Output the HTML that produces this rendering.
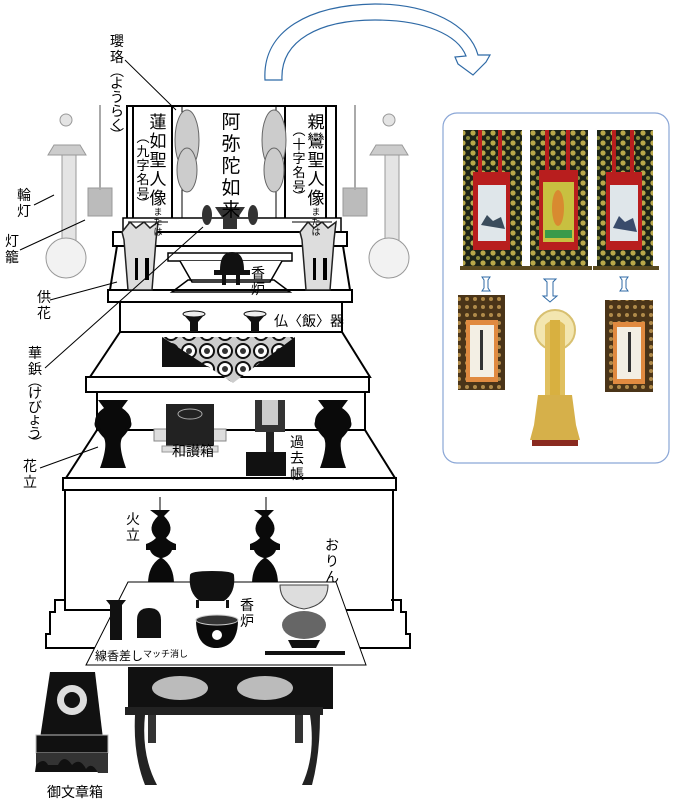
<!DOCTYPE html>
<html><head><meta charset="utf-8"><style>
html,body{margin:0;padding:0;background:#fff;}
svg{display:block;}
text{font-family:"Liberation Sans","Noto Sans CJK JP",sans-serif;fill:#000;}
</style></head><body>
<svg width="685" height="804" viewBox="0 0 685 804" xmlns="http://www.w3.org/2000/svg">
<defs>
<pattern id="brocade" width="10" height="10" patternUnits="userSpaceOnUse">
<rect width="10" height="10" fill="#1c2418"/>
<circle cx="3" cy="3" r="2.6" fill="#b8a84a"/>
<circle cx="8" cy="8" r="2" fill="#8a8a3a"/>
</pattern>
<pattern id="brown" width="8" height="8" patternUnits="userSpaceOnUse">
<rect width="8" height="8" fill="#4a3418"/>
<circle cx="3" cy="3" r="2" fill="#b08a4a"/>
</pattern>
<pattern id="cloth" width="18" height="18" patternUnits="userSpaceOnUse">
<rect width="18" height="18" fill="#ccc"/>
<circle cx="9" cy="9" r="7" fill="#fff" stroke="#111" stroke-width="2"/>
<circle cx="9" cy="9" r="3" fill="#333"/>
</pattern>
</defs>

<!-- arrow -->
<path d="M265,80 C262,30 310,5 375,4 C430,4 470,25 478,55 L490,55 L486,62 L473,75 L458,64 L455,57 L466,56 C458,35 425,20 375,20 C320,20 280,40 282,80 Z" fill="#fff" stroke="#2f6aa6" stroke-width="1.2"/>

<!-- right panel -->
<rect x="443" y="113" width="226" height="350" rx="14" fill="#fff" stroke="#8aa6d6" stroke-width="1.2"/>
<g>
<rect x="463" y="130" width="59" height="138" fill="url(#brocade)"/>
<rect x="473" y="172" width="37" height="78" fill="#b81e1e"/>
<rect x="478" y="185" width="28" height="56" fill="#dfe6ea"/>
<path d="M481,225 l6,-10 l6,6 l8,-4 l4,12 z" fill="#3a4c5c"/>
<rect x="478" y="130" width="4" height="42" fill="#b81e1e"/><rect x="498" y="130" width="4" height="42" fill="#b81e1e"/>
<rect x="460" y="266" width="66" height="4" fill="#5a4a20"/>

<rect x="530" y="130" width="58" height="138" fill="url(#brocade)"/>
<rect x="539" y="170" width="39" height="80" fill="#b81e1e"/>
<rect x="543" y="182" width="31" height="60" fill="#c8c040"/>
<ellipse cx="558" cy="208" rx="6" ry="18" fill="#d88a30"/>
<rect x="545" y="230" width="27" height="8" fill="#3a9a4a"/>
<rect x="545" y="130" width="4" height="40" fill="#b81e1e"/><rect x="566" y="130" width="4" height="40" fill="#b81e1e"/>
<rect x="526" y="266" width="66" height="4" fill="#5a4a20"/>

<rect x="597" y="130" width="56" height="138" fill="url(#brocade)"/>
<rect x="606" y="172" width="36" height="78" fill="#b81e1e"/>
<rect x="610" y="185" width="28" height="56" fill="#dfe6ea"/>
<path d="M613,228 l6,-12 l6,6 l8,-4 l4,14 z" fill="#3a4c6c"/>
<rect x="612" y="130" width="4" height="42" fill="#b81e1e"/><rect x="630" y="130" width="4" height="42" fill="#b81e1e"/>
<rect x="593" y="266" width="66" height="4" fill="#5a4a20"/>
</g>
<g fill="#fff" stroke="#2f6aa6" stroke-width="1">
<path d="M482,277 h8 l-2,3 v8 l2,3 h-8 l2,-3 v-8 z"/>
<path d="M544,279 h12 l-3,3 v14 h4 l-7,6 l-7,-6 h4 v-14 z"/>
<path d="M620,277 h8 l-2,3 v8 l2,3 h-8 l2,-3 v-8 z"/>
</g>
<rect x="458" y="295" width="47" height="95" fill="url(#brown)"/>
<rect x="466" y="320" width="32" height="62" fill="#e08a40"/>
<rect x="470" y="325" width="24" height="52" fill="#f3efe4"/>
<rect x="480" y="330" width="3" height="40" fill="#333"/>
<rect x="605" y="300" width="48" height="92" fill="url(#brown)"/>
<rect x="613" y="322" width="32" height="62" fill="#e08a40"/>
<rect x="617" y="327" width="24" height="52" fill="#f3efe4"/>
<rect x="628" y="332" width="3" height="40" fill="#333"/>
<circle cx="555" cy="330" r="20" fill="#f3e6b0" stroke="#d8c070" stroke-width="2"/>
<path d="M545,325 q10,-10 20,0 v70 h-20 z" fill="#e0c060"/>
<rect x="550" y="320" width="10" height="80" fill="#d8b040"/>
<path d="M538,395 h34 l4,30 l4,15 h-50 l4,-15 z" fill="#d6b04a"/>
<rect x="532" y="440" width="46" height="6" fill="#8a2a20"/>

<!-- ===== Shrine ===== -->
<g stroke="#000" fill="#fff" stroke-width="2">
<rect x="127" y="106" width="209" height="118"/>
<line x1="133" y1="106" x2="133" y2="224"/><line x1="326" y1="106" x2="326" y2="224"/>
<line x1="172" y1="106" x2="172" y2="224"/><line x1="285" y1="106" x2="285" y2="224"/>
<line x1="182" y1="106" x2="182" y2="224" stroke-width="1"/><line x1="276" y1="106" x2="276" y2="224" stroke-width="1"/>
<rect x="123" y="218" width="218" height="15" stroke-width="1.5"/>
<rect x="113" y="232" width="234" height="14"/>
<path d="M117,246 L110,290 L350,290 L343,246 Z"/>
<rect x="108" y="290" width="244" height="12"/>
<rect x="120" y="302" width="222" height="30"/>
<path d="M120,332 L90,377 L370,377 L342,332 Z"/>
<rect x="86" y="377" width="283" height="15"/>
<rect x="97" y="392" width="268" height="38"/>
<path d="M97,430 L66,478 L395,478 L365,430 Z"/>
<rect x="63" y="478" width="333" height="12"/>
<rect x="65" y="490" width="328" height="120"/>
<path d="M65,600 h-10 v12 h-5 v22 h-4 v14 h364 v-14 h-4 v-22 h-5 v-12 h-10" fill="none"/>
</g>
<g stroke="#000" stroke-width="1.5" fill="#fff">
<path d="M168,253 h124 v8 h-124 z"/>
<path d="M180,261 L192,282 L270,282 L282,261"/>
<path d="M172,292 L188,280 L274,280 L290,292 Z" fill="none"/>
</g>
<g stroke="#000" stroke-width="1">
<path d="M128,222 h40 M292,222 h40"/>
</g>

<!-- yoraku -->
<g fill="#ccc" stroke="#666" stroke-width="1">
<ellipse cx="187" cy="140" rx="12" ry="30"/><ellipse cx="187" cy="170" rx="10" ry="22"/>
<ellipse cx="274" cy="140" rx="12" ry="30"/><ellipse cx="274" cy="170" rx="10" ry="22"/>
</g>
<!-- lanterns -->
<g fill="#e4e4e4" stroke="#999" stroke-width="1">
<rect x="62" y="152" width="14" height="90"/>
<ellipse cx="66" cy="258" rx="20" ry="20" fill="#f2f2f2"/>
<path d="M48,155 h38 l-6,-10 h-26 z" fill="#ccc"/>
<circle cx="66" cy="120" r="6"/>
<rect x="385" y="152" width="14" height="90"/>
<ellipse cx="389" cy="258" rx="20" ry="20" fill="#f2f2f2"/>
<path d="M370,155 h38 l-6,-10 h-26 z" fill="#ccc"/>
<circle cx="389" cy="120" r="6"/>
<rect x="88" y="188" width="24" height="28" fill="#bbb"/>
<rect x="343" y="188" width="24" height="28" fill="#bbb"/>
</g>
<line x1="100" y1="105" x2="100" y2="190" stroke="#aaa" stroke-width="2"/>
<line x1="355" y1="105" x2="355" y2="190" stroke="#aaa" stroke-width="2"/>
<!-- kebyo -->
<g fill="#ddd" stroke="#222" stroke-width="1.5">
<path d="M122,232 l8,-10 l6,6 l8,-6 l6,6 l8,-6 l-2,18 l-4,50 h-24 l-4,-50 z"/>
<path d="M300,232 l8,-10 l6,6 l8,-6 l6,6 l8,-6 l-2,18 l-4,50 h-24 l-4,-50 z"/>
</g>
<rect x="135" y="258" width="3" height="22" fill="#000"/><rect x="145" y="258" width="4" height="22" fill="#000"/>
<rect x="313" y="258" width="3" height="22" fill="#000"/><rect x="323" y="258" width="4" height="22" fill="#000"/>
<g fill="#333"><ellipse cx="207" cy="215" rx="5" ry="10"/><ellipse cx="253" cy="215" rx="5" ry="10"/>
<path d="M215,207 h30 l-8,12 v10 h-14 v-10 z"/></g>
<path d="M220,270 q0,-18 12,-18 q12,0 12,18 h6 v5 h-36 v-5 z" fill="#111"/>
<rect x="222" y="275" width="4" height="10" fill="#111"/><rect x="236" y="275" width="4" height="10" fill="#111"/>
<g fill="#111"><path d="M183,314 h22 l-7,8 v10 h-8 v-10 z"/><path d="M244,314 h22 l-7,8 v10 h-8 v-10 z"/></g>
<ellipse cx="194" cy="314" rx="11" ry="3" fill="#eee" stroke="#111"/>
<ellipse cx="255" cy="314" rx="11" ry="3" fill="#eee" stroke="#111"/>
<rect x="162" y="337" width="133" height="30" fill="#111"/>
<path d="M162,337 h133 l-62,46 z" fill="url(#cloth)"/>
<!-- hanatate vases -->
<g fill="#0a0a0a">
<path d="M98,400 h30 l-6,8 q18,12 0,30 q-4,8 4,30 h-26 q8,-22 4,-30 q-18,-18 0,-30 z"/>
<path d="M318,400 h30 l-6,8 q18,12 0,30 q-4,8 4,30 h-26 q8,-22 4,-30 q-18,-18 0,-30 z"/>
</g>
<g fill="none" stroke="#0a0a0a" stroke-width="3">
<path d="M100,418 q-8,6 0,12 M126,418 q8,6 0,12"/>
<path d="M320,418 q-8,6 0,12 M346,418 q8,6 0,12"/>
</g>
<rect x="154" y="429" width="72" height="12" fill="#ddd" stroke="#888"/>
<rect x="166" y="404" width="48" height="42" fill="#222"/>
<ellipse cx="190" cy="414" rx="12" ry="5" fill="none" stroke="#aaa"/>
<rect x="162" y="446" width="56" height="6" fill="#ddd" stroke="#999"/>
<rect x="255" y="400" width="30" height="32" fill="#333"/>
<rect x="262" y="400" width="16" height="25" fill="#ccc"/>
<rect x="266" y="432" width="8" height="20" fill="#222"/>
<rect x="246" y="452" width="40" height="24" fill="#111"/>
<!-- candles -->
<g fill="#0a0a0a">
<path d="M150,510 h20 l-6,6 q12,12 2,22 q4,4 10,6 v6 h-4 q-2,6 -10,8 q12,8 12,26 v10 h-8 v8 h16 v6 h-42 v-6 h16 v-8 h-8 v-10 q0,-18 12,-26 q-8,-2 -10,-8 h-4 v-6 q6,-2 10,-6 q-10,-10 2,-22 z"/>
<path d="M254,510 h20 l-6,6 q12,12 2,22 q4,4 10,6 v6 h-4 q-2,6 -10,8 q12,8 12,26 v10 h-8 v8 h16 v6 h-42 v-6 h16 v-8 h-8 v-10 q0,-18 12,-26 q-8,-2 -10,-8 h-4 v-6 q6,-2 10,-6 q-10,-10 2,-22 z"/>
</g>
<line x1="160" y1="497" x2="160" y2="510" stroke="#000"/><line x1="266" y1="497" x2="266" y2="510" stroke="#000"/>
<path d="M128,582 L336,582 L366,665 L86,665 Z" fill="#fff" stroke="#000" stroke-width="1"/>
<path d="M190,575 q0,-4 22,-4 q22,0 22,4 q2,18 -10,26 h-24 q-12,-8 -10,-26 z" fill="#111"/>
<rect x="196" y="600" width="3" height="8" fill="#111"/><rect x="226" y="600" width="3" height="8" fill="#111"/>
<path d="M196,620 h42 q0,26 -20,28 h-4 q-18,-2 -18,-28 z" fill="#0a0a0a"/>
<ellipse cx="217" cy="620" rx="21" ry="5" fill="#333" stroke="#ccc"/>
<circle cx="217" cy="635" r="5" fill="#fff"/>
<path d="M106,600 h20 l-4,5 v35 h-12 v-35 z" fill="#111"/>
<path d="M137,620 q0,-12 12,-12 q12,0 12,12 v18 h-24 z" fill="#111"/>
<path d="M280,585 h48 q0,20 -24,24 q-24,-4 -24,-24 z" fill="#ddd" stroke="#444"/>
<ellipse cx="304" cy="625" rx="22" ry="14" fill="#666"/>
<path d="M288,640 h32 l-4,8 h-24 z" fill="#111"/>
<rect x="265" y="651" width="80" height="4" fill="#111"/>
<rect x="128" y="667" width="205" height="42" fill="#111"/>
<ellipse cx="180" cy="688" rx="28" ry="12" fill="#bbb"/>
<ellipse cx="265" cy="688" rx="28" ry="12" fill="#bbb"/>
<rect x="125" y="707" width="198" height="8" fill="#222"/>
<path d="M135,715 h10 q-4,40 12,70 h-12 q-12,-30 -10,-70 z" fill="#222"/>
<path d="M310,715 h10 q0,40 -8,70 h-10 q14,-30 8,-70 z" fill="#222"/>
<path d="M148,715 h8 v28 h-8 z M295,715 h8 v28 h-8 z" fill="#333"/>
<path d="M50,672 h45 l12,100 h-72 z" fill="#111"/>
<rect x="36" y="735" width="72" height="18" fill="#111" stroke="#bbb"/>
<circle cx="72" cy="700" r="15" fill="#ddd"/><circle cx="72" cy="700" r="8" fill="#111"/>
<path d="M36,753 h72 v20 h-10 q-6,-12 -12,-4 q-6,-12 -14,-4 q-8,-12 -14,0 h-10 q-4,-8 -12,0 z" fill="#333"/>

<!-- leader lines -->
<g stroke="#000" stroke-width="1">
<line x1="125" y1="60" x2="176" y2="110"/>
<line x1="34" y1="205" x2="54" y2="195"/>
<line x1="20" y1="250" x2="85" y2="220"/>
<line x1="50" y1="300" x2="117" y2="282"/>
<line x1="45" y1="368" x2="203" y2="227"/>
<line x1="40" y1="468" x2="98" y2="447"/>
</g>

<!-- labels -->
<g font-size="14" text-anchor="middle">
<text x="117" y="46">瓔</text><text x="117" y="62">珞</text>
<text x="117" y="76">︵</text><text x="117" y="88">よ</text><text x="117" y="102">う</text><text x="117" y="116">ら</text><text x="117" y="130">く</text><text x="117" y="140">︶</text>
<text x="24" y="200">輪</text><text x="24" y="216">灯</text>
<text x="12" y="246">灯</text><text x="12" y="262">籠</text>
<text x="44" y="302">供</text><text x="44" y="318">花</text>
<text x="35" y="358">華</text><text x="35" y="374">鋲</text>
<text x="35" y="386">︵</text><text x="35" y="398">け</text><text x="35" y="412">び</text><text x="35" y="424">ょ</text><text x="35" y="438">う</text><text x="35" y="448">︶</text>
<text x="30" y="471">花</text><text x="30" y="487">立</text>
<text x="297" y="447">過</text><text x="297" y="463">去</text><text x="297" y="479">帳</text>
<text x="258" y="278">香</text><text x="258" y="294">炉</text>
<text x="133" y="524">火</text><text x="133" y="540">立</text>
<text x="332" y="550">お</text><text x="332" y="566">り</text><text x="332" y="582">ん</text>
<text x="247" y="610">香</text><text x="247" y="626">炉</text>
</g>
<g font-size="14">
<text x="172" y="456">和讃箱</text>
<text x="274" y="326">仏〈飯〉器</text>
<text x="47" y="797">御文章箱</text>
</g>
<text x="95" y="660" font-size="12">線香差し</text>
<text x="143" y="657" font-size="9">マッチ消し</text>
<g font-size="19" text-anchor="middle">
<text x="231" y="128">阿</text><text x="231" y="150">弥</text><text x="231" y="172">陀</text><text x="231" y="194">如</text><text x="231" y="216">来</text>
</g>
<g font-size="17" text-anchor="middle">
<text x="158" y="128">蓮</text><text x="158" y="147">如</text><text x="158" y="166">聖</text><text x="158" y="185">人</text><text x="158" y="204">像</text>
<text x="316" y="128">親</text><text x="316" y="147">鸞</text><text x="316" y="166">聖</text><text x="316" y="185">人</text><text x="316" y="204">像</text>
</g>
<g font-size="13" text-anchor="middle">
<text x="143" y="142">︵</text><text x="143" y="156">九</text><text x="143" y="170">字</text><text x="143" y="184">名</text><text x="143" y="198">号</text><text x="143" y="208">︶</text>
<text x="299" y="135">︵</text><text x="299" y="149">十</text><text x="299" y="163">字</text><text x="299" y="177">名</text><text x="299" y="191">号</text><text x="299" y="201">︶</text>
</g>
<g font-size="9" text-anchor="middle">
<text x="158" y="215">ま</text><text x="158" y="225">た</text><text x="158" y="235">は</text>
<text x="316" y="215">ま</text><text x="316" y="225">た</text><text x="316" y="235">は</text>
</g>
</svg>
</body></html>
